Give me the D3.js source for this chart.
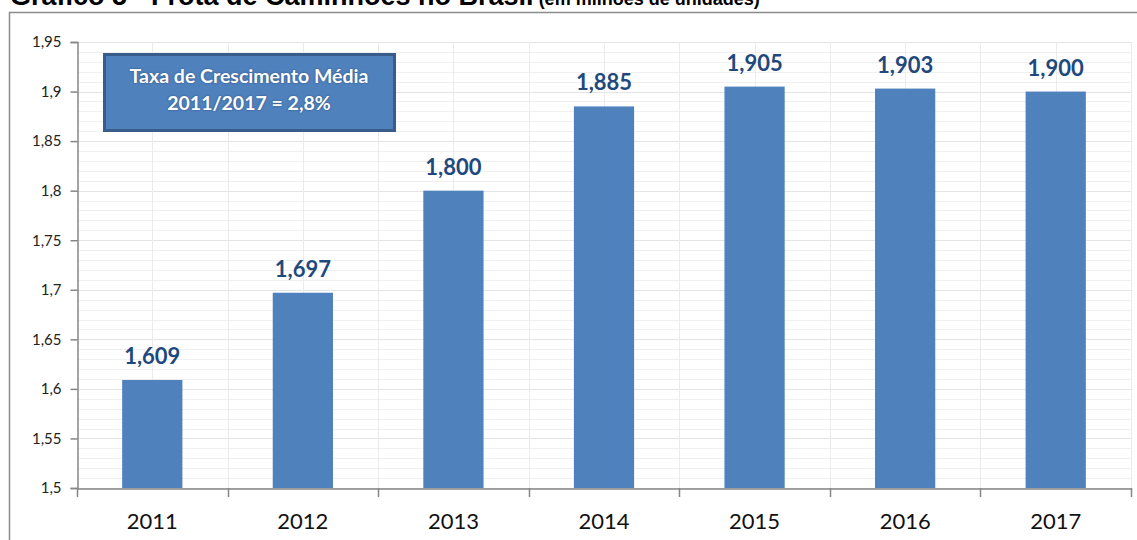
<!DOCTYPE html>
<html>
<head>
<meta charset="utf-8">
<script src="https://cdn.jsdelivr.net/npm/d3@7"></script>
<style>
  body { margin: 0; background: #fff; }
  svg { display: block; font-family: Lato, "Open Sans", sans-serif; }
</style>
</head>
<body>
<div id="chart"></div>
<script>
// dados: frota de caminhões (milhões de unidades)
var years = ["2011", "2012", "2013", "2014", "2015", "2016", "2017"];
var values = [1.609, 1.697, 1.800, 1.885, 1.905, 1.903, 1.900];
var valueLabels = ["1,609", "1,697", "1,800", "1,885", "1,905", "1,903", "1,900"];
var yTicks = [1.5, 1.55, 1.6, 1.65, 1.7, 1.75, 1.8, 1.85, 1.9, 1.95];
var yTickLabels = ["1,5", "1,55", "1,6", "1,65", "1,7", "1,75", "1,8", "1,85", "1,9", "1,95"];
var minorTicks = d3.range(150, 196).map(function(d){ return d / 100; });
var titleMain = "Gráfico 5 - Frota de Caminhões no Brasil";
var titleSub = " (em milhões de unidades)";
var boxLines = ["Taxa de Crescimento Média", "2011/2017 = 2,8%"];

var width = 1137, height = 540;
var plotLeft = 77, plotRight = 1131, plotTop = 42, plotBottom = 488;

var svg = d3.select("#chart").append("svg")
    .attr("width", width)
    .attr("height", height);

// titulo (cortado no topo)
var title = svg.append("text")
    .attr("x", 10)
    .attr("y", 5)
    .attr("fill", "#000")
    .attr("font-family", "'Liberation Sans', Arial, sans-serif")
    .attr("font-weight", "bold");
title.append("tspan").attr("font-size", 27).text(titleMain);
title.append("tspan").attr("font-size", 18).text(titleSub);

// moldura
svg.append("path")
    .attr("d", "M9.5," + height + "V12.5H" + width)
    .attr("fill", "none")
    .attr("stroke", "#8c8c8c")
    .attr("stroke-width", 1.5);

var x = d3.scaleBand().domain(years).range([plotLeft, plotRight]).padding(0);
var y = d3.scaleLinear().domain([1.5, 1.95]).range([plotBottom, plotTop]);

// grade menor
svg.append("g").selectAll("line")
    .data(minorTicks)
    .enter()
    .append("line")
    .attr("x1", plotLeft).attr("x2", plotRight)
    .attr("y1", function(d){ return Math.round(y(d)) + 0.5; })
    .attr("y2", function(d){ return Math.round(y(d)) + 0.5; })
    .attr("stroke", "#f0f0f0");

// grade maior
svg.append("g").selectAll("line")
    .data(yTicks)
    .enter()
    .append("line")
    .attr("x1", plotLeft).attr("x2", plotRight)
    .attr("y1", function(d){ return Math.round(y(d)) + 0.5; })
    .attr("y2", function(d){ return Math.round(y(d)) + 0.5; })
    .attr("stroke", "#e4e4e4");

// grade vertical (meio e limites das categorias)
var vLines = [];
years.forEach(function(d){
    vLines.push(x(d) + x.bandwidth() / 2);
    vLines.push(x(d) + x.bandwidth());
});
svg.append("g").selectAll("line")
    .data(vLines)
    .enter()
    .append("line")
    .attr("x1", function(d){ return Math.round(d) + 0.5; })
    .attr("x2", function(d){ return Math.round(d) + 0.5; })
    .attr("y1", plotTop).attr("y2", plotBottom)
    .attr("stroke", "#ebebeb");

// barras
var barW = x.bandwidth() * 0.4;
svg.append("g").selectAll("rect")
    .data(values)
    .enter()
    .append("rect")
    .attr("x", function(d, i){ return x(years[i]) + (x.bandwidth() - barW) / 2; })
    .attr("y", function(d){ return y(d); })
    .attr("width", barW)
    .attr("height", function(d){ return plotBottom - y(d); })
    .attr("fill", "#4f81bd");

// rótulos de valor
svg.append("g").selectAll("text")
    .data(values)
    .enter()
    .append("text")
    .attr("x", function(d, i){ return x(years[i]) + x.bandwidth() / 2; })
    .attr("y", function(d){ return y(d) - 16; })
    .attr("text-anchor", "middle")
    .attr("font-size", 22)
    .attr("font-weight", "bold")
    .attr("fill", "#1f497d")
    .text(function(d, i){ return valueLabels[i]; });

// eixo y
var yAxis = d3.axisLeft(y)
    .tickValues(yTicks)
    .tickSize(7)
    .tickPadding(9)
    .tickFormat(function(d, i){ return yTickLabels[i]; });
var gy = svg.append("g")
    .attr("transform", "translate(" + (plotLeft + 0.5) + ",0)")
    .call(yAxis);
gy.selectAll("path, line").attr("stroke", "#868686").attr("stroke-width", 1.5);
gy.selectAll("text")
    .attr("font-size", 15)
    .attr("font-family", "Lato, sans-serif")
    .attr("fill", "#222");

// eixo x
var xAxis = d3.axisBottom(x)
    .tickSize(0)
    .tickPadding(25);
var gx = svg.append("g")
    .attr("transform", "translate(0," + (plotBottom + 0.5) + ")")
    .call(xAxis);
gx.select(".domain").attr("stroke", "#868686").attr("stroke-width", 1.5);
gx.selectAll("text")
    .attr("font-size", 22)
    .attr("font-family", "Lato, sans-serif")
    .attr("fill", "#111");

// marcas nos limites das categorias
var bounds = [plotLeft].concat(years.map(function(d){ return x(d) + x.bandwidth(); }));
svg.append("g").selectAll("line")
    .data(bounds)
    .enter()
    .append("line")
    .attr("x1", function(d){ return Math.round(d) + 0.5; })
    .attr("x2", function(d){ return Math.round(d) + 0.5; })
    .attr("y1", plotBottom)
    .attr("y2", plotBottom + 9)
    .attr("stroke", "#868686")
    .attr("stroke-width", 1.5);

// caixa de taxa de crescimento
svg.append("rect")
    .attr("x", 104.5)
    .attr("y", 54.5)
    .attr("width", 290)
    .attr("height", 76)
    .attr("fill", "#4f81bd")
    .attr("stroke", "#385d8a")
    .attr("stroke-width", 3);

svg.append("g").selectAll("text")
    .data(boxLines)
    .enter()
    .append("text")
    .attr("x", 249)
    .attr("y", function(d, i){ return 83 + i * 27; })
    .attr("text-anchor", "middle")
    .attr("font-size", 19.5)
    .attr("font-weight", "bold")
    .attr("fill", "#fff")
    .style("text-shadow", "0 0 2px rgba(30,50,90,0.7)")
    .text(function(d){ return d; });
</script>
</body>
</html>
